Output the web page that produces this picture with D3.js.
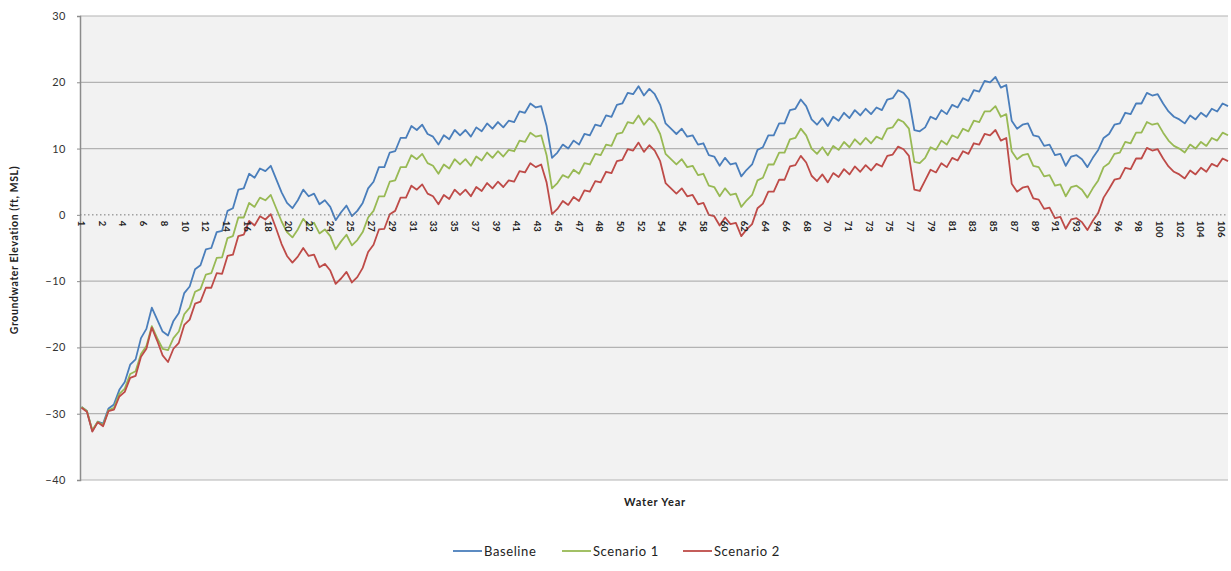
<!DOCTYPE html>
<html><head><meta charset="utf-8">
<script src="https://cdn.jsdelivr.net/npm/d3@7"></script>
<style>body{margin:0;background:#fff}svg{display:block}text{font-family:Lato,"Open Sans",sans-serif}</style>
</head><body><svg id="c" width="1231" height="571"></svg>
<script>
// values at half-year steps, year 0 .. 106
const baseline = [
-29.0,-29.6,-32.6,-31.2,-31.5,-29.2,-28.6,-26.4,-25.2,-22.6,-21.8,-18.6,-17.2,-14.0,-15.8,-17.6,-18.2,-16.0,-14.8,-11.8,
-10.8,-8.2,-7.6,-5.2,-5.0,-2.6,-2.4,0.6,1.0,3.8,4.0,6.2,5.6,7.0,6.6,7.4,5.4,3.4,1.8,1.0,
2.2,3.8,2.8,3.2,1.6,2.2,1.2,-0.8,0.4,1.4,-0.2,0.6,1.8,4.0,5.0,7.2,7.2,9.4,9.6,11.6,
11.6,13.4,12.8,13.6,12.2,11.8,10.6,12.0,11.4,12.8,12.0,12.8,11.8,13.2,12.6,13.8,13.0,14.0,13.2,14.2,
14.0,15.6,15.4,16.8,16.2,16.4,13.4,8.6,9.4,10.6,10.0,11.2,10.6,12.2,12.0,13.6,13.4,15.0,14.8,16.6,
16.8,18.4,18.2,19.4,18.0,19.0,18.2,16.6,13.8,13.0,12.2,13.0,11.8,12.0,10.6,10.8,9.0,8.8,7.4,8.6,
7.6,7.8,5.8,6.8,7.6,9.8,10.2,12.0,12.0,13.8,13.8,15.8,16.0,17.4,16.4,14.4,13.6,14.6,13.4,14.8,
14.2,15.4,14.6,15.8,15.0,16.0,15.2,16.2,15.8,17.4,17.6,18.8,18.4,17.4,12.8,12.6,13.2,14.8,14.4,15.8,
15.2,16.6,16.2,17.6,17.2,18.8,18.6,20.2,20.0,20.8,19.2,19.6,14.2,13.0,13.6,13.8,12.0,11.8,10.4,10.6,
9.0,9.2,7.4,8.8,9.0,8.4,7.2,8.6,9.8,11.6,12.2,13.6,13.8,15.4,15.2,16.8,16.8,18.4,18.0,18.2,
16.8,15.6,14.8,14.4,13.8,15.0,14.4,15.4,14.8,16.0,15.6,16.8,16.4];
const scenario1 = [
-29.0,-29.6,-32.5,-31.2,-31.7,-29.5,-29.1,-27.0,-26.2,-24.0,-23.6,-21.0,-19.8,-16.8,-18.6,-20.2,-20.4,-18.6,-17.6,-15.0,
-14.0,-11.6,-11.2,-9.0,-8.8,-6.5,-6.4,-3.5,-3.2,-0.4,-0.4,1.8,1.2,2.6,2.2,3.0,1.0,-1.0,-2.6,-3.4,
-2.2,-0.6,-1.6,-1.2,-2.8,-2.2,-3.2,-5.2,-4.0,-3.0,-4.6,-3.8,-2.6,-0.4,0.6,2.8,2.8,5.0,5.2,7.2,
7.2,9.0,8.4,9.2,7.8,7.4,6.2,7.6,7.0,8.4,7.6,8.4,7.4,8.8,8.2,9.4,8.6,9.6,8.8,9.8,
9.6,11.2,11.0,12.4,11.8,12.0,9.0,4.0,4.8,6.0,5.6,6.8,6.2,7.8,7.6,9.2,9.0,10.6,10.4,12.2,
12.4,14.0,13.8,15.0,13.6,14.6,13.8,12.2,9.2,8.4,7.6,8.4,7.2,7.4,6.0,6.2,4.4,4.2,2.8,4.0,
3.0,3.2,1.2,2.2,3.0,5.2,5.6,7.6,7.6,9.4,9.4,11.4,11.6,13.0,12.0,10.0,9.2,10.2,9.0,10.4,
9.8,11.0,10.2,11.4,10.6,11.6,10.8,11.8,11.4,13.0,13.2,14.4,14.0,13.0,8.0,7.8,8.6,10.2,9.8,11.2,
10.6,12.0,11.6,13.0,12.6,14.2,14.0,15.6,15.6,16.4,14.8,15.2,9.6,8.4,9.0,9.2,7.4,7.2,5.8,6.0,
4.4,4.6,2.8,4.2,4.4,3.8,2.6,4.0,5.2,7.2,7.8,9.2,9.4,11.0,10.8,12.4,12.4,14.0,13.6,13.8,
12.4,11.2,10.4,10.0,9.4,10.6,10.0,11.0,10.4,11.6,11.2,12.4,12.0];
const scenario2 = [
-29.1,-29.7,-32.7,-31.3,-31.9,-29.6,-29.4,-27.4,-26.7,-24.6,-24.3,-21.4,-20.2,-17.0,-19.0,-21.2,-22.2,-20.2,-19.3,-16.6,
-15.8,-13.4,-13.1,-11.0,-11.0,-8.8,-8.9,-6.2,-6.0,-3.2,-3.0,-0.9,-1.6,-0.2,-0.7,0.1,-2.1,-4.4,-6.2,-7.2,
-6.3,-5.0,-6.2,-6.0,-7.9,-7.4,-8.4,-10.4,-9.6,-8.6,-10.2,-9.4,-8.0,-5.6,-4.5,-2.2,-2.1,0.1,0.6,2.6,
2.6,4.4,3.8,4.6,3.2,2.8,1.6,3.0,2.4,3.8,3.0,3.8,2.8,4.2,3.6,4.8,4.0,5.0,4.2,5.2,
5.0,6.6,6.4,7.8,7.2,7.6,4.9,0.1,0.9,2.1,1.5,2.7,2.1,3.7,3.5,5.1,4.9,6.5,6.3,8.1,
8.3,9.9,9.7,10.9,9.5,10.5,9.7,8.1,4.8,4.0,3.2,4.0,2.8,3.0,1.6,1.8,0.0,-0.2,-1.6,-0.4,
-1.4,-1.2,-3.2,-2.2,-1.4,1.0,1.7,3.5,3.5,5.3,5.3,7.3,7.5,8.9,7.9,5.9,5.1,6.1,4.9,6.3,
5.7,6.9,6.1,7.3,6.5,7.5,6.7,7.7,7.3,8.9,9.1,10.3,9.9,8.9,3.8,3.6,5.2,6.8,6.4,7.8,
7.2,8.6,8.2,9.6,9.2,10.8,10.6,12.2,12.0,12.8,11.2,11.6,4.7,3.5,4.1,4.3,2.5,2.3,0.9,1.1,
-0.5,-0.3,-2.1,-0.7,-0.5,-1.1,-2.3,-0.9,0.3,2.6,3.9,5.3,5.5,7.1,6.9,8.5,8.5,10.1,9.7,9.9,
8.5,7.3,6.5,6.1,5.5,6.7,6.1,7.1,6.5,7.7,7.3,8.5,8.1];
const seriesNames = ["Baseline","Scenario 1","Scenario 2"];
const seriesColors = ["#4a7ebb","#98b954","#be4b48"];
const tickLabels = ["1","2","4","6","8","10","12","14","16","18","20","22","24","25","27","29","31","33","35","37",
"39","41","43","45","47","48","50","52","54","56","58","60","62","64","66","68","70","71","73","75",
"77","79","81","83","85","87","89","91","93","94","96","98","100","102","104","106"];
const labelStepMonths = 23;
const yTicks = [-40,-30,-20,-10,0,10,20,30];

const svg = d3.select("#c");
const L = 80, R = 1228, T = 16, B = 480;
const x = d3.scaleLinear().domain([0,106]).range([L+1.5, R]);
const y = d3.scaleLinear().domain([-40,30]).range([B, T]);

svg.append("rect").attr("x",L).attr("y",T).attr("width",R-L).attr("height",B-T).attr("fill","#f2f2f2");
// gridlines
svg.append("g").selectAll("line").data(yTicks.filter(d=>d!==0)).join("line")
  .attr("x1",L).attr("x2",R).attr("y1",d=>y(d)).attr("y2",d=>y(d))
  .attr("stroke","#b3b3b3").attr("stroke-width",1.2);
// y axis
const ya = svg.append("g").attr("transform",`translate(${L},0)`)
  .call(d3.axisLeft(y).tickValues(yTicks).tickSize(3).tickFormat(d3.format("d")));
ya.select(".domain").attr("stroke","#8c8c8c").attr("stroke-width",1.5);
ya.selectAll(".tick line").attr("stroke","#8c8c8c");
ya.selectAll("text").attr("font-size",11).attr("fill","#333").attr("x",-14).attr("letter-spacing",0.5);

// series
const line = d3.line().x((d,i)=>x(i*0.5)).y(d=>y(d));
[baseline,scenario1,scenario2].forEach((s,k)=>{
  svg.append("path").datum(s).attr("d",line).attr("fill","none")
    .attr("stroke",seriesColors[k]).attr("stroke-width",1.8).attr("stroke-linejoin","round");
});

// x axis at 0
const xa = svg.append("g").attr("transform",`translate(0,${y(0)})`);
xa.append("line").attr("x1",L).attr("x2",R).attr("stroke","#777").attr("stroke-width",1).attr("stroke-dasharray","1.5,2.5");
xa.selectAll("text").data(tickLabels).join("text")
  .attr("transform",(d,i)=>`translate(${x(i*labelStepMonths/12)-3.5},${6}) rotate(90)`)
  .attr("font-size",9.5).attr("font-weight","bold").attr("fill","#222").attr("text-anchor","start")
  .text(d=>d);

// titles
svg.append("text").attr("transform",`translate(18,${250}) rotate(-90)`).attr("text-anchor","middle")
  .attr("font-size",10.5).attr("font-weight","bold").attr("letter-spacing",0.6).attr("fill","#222").text("Groundwater Elevation (ft, MSL)");
svg.append("text").attr("x",655).attr("y",506).attr("text-anchor","middle")
  .attr("font-size",11).attr("font-weight","bold").attr("letter-spacing",0.8).attr("fill","#222").text("Water Year");

// legend
const lg = svg.append("g");
const lx = [453,562,683];
seriesNames.forEach((n,k)=>{
  lg.append("line").attr("x1",lx[k]).attr("x2",lx[k]+29).attr("y1",551).attr("y2",551)
    .attr("stroke",seriesColors[k]).attr("stroke-width",1.8);
  lg.append("text").attr("x",lx[k]+31).attr("y",556).attr("font-size",13).attr("letter-spacing",0.6).attr("fill","#222").text(n);
});
</script></body></html>
